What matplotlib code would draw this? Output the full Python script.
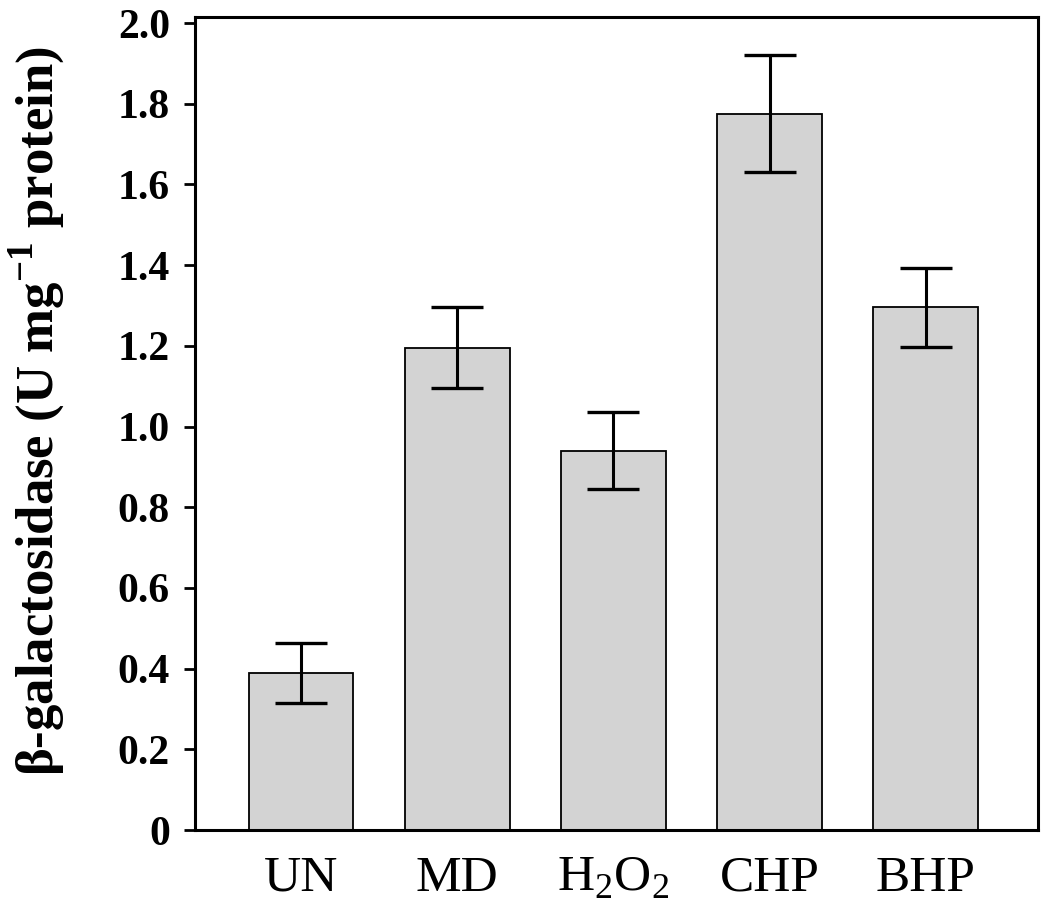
import numpy as np
import matplotlib.pyplot as plt

plt.rcParams['font.family'] = ['Liberation Serif', 'DejaVu Serif']
plt.rcParams['mathtext.fontset'] = 'custom'
plt.rcParams['mathtext.rm'] = 'Liberation Serif'
plt.rcParams['mathtext.bf'] = 'Liberation Serif:bold'

# data
treatments = ['UN', 'MD', r'H$_\mathrm{2}$O$_\mathrm{2}$', 'CHP', 'BHP']
activity = [0.39, 1.195, 0.94, 1.775, 1.295]
errors = [0.074, 0.10, 0.095, 0.145, 0.097]
yticks = [0, 0.2, 0.4, 0.6, 0.8, 1.0, 1.2, 1.4, 1.6, 1.8, 2.0]
yticklabels = ['0', '0.2', '0.4', '0.6', '0.8', '1.0', '1.2', '1.4', '1.6', '1.8', '2.0']

fig = plt.figure(figsize=(10.5, 9.13), dpi=100)
ax = fig.add_axes([0.1857, 0.0909, 0.803, 0.8905])

x = np.arange(len(treatments))
ax.bar(x, activity, width=0.67, color='#d3d3d3', edgecolor='black', linewidth=1.3, zorder=2)
ax.errorbar(x, activity, yerr=errors, fmt='none', ecolor='black',
            elinewidth=2.2, capsize=19, capthick=2.4, zorder=3)

ax.set_xlim(-0.68, 4.72)
ax.set_ylim(0, 2.015)
ax.set_xticks(x)
ax.set_xticklabels(treatments, fontsize=37)
ax.tick_params(axis='x', length=0, pad=18)
ax.set_yticks(yticks)
ax.set_yticklabels(yticklabels, fontsize=30, fontweight='bold')
ax.tick_params(axis='y', length=8, width=2, pad=10)

for s in ax.spines.values():
    s.set_linewidth(2.2)

ax.set_ylabel(r'β-galactosidase (U mg$^{\mathbf{-1}}$ protein)', fontsize=38,
              fontweight='bold')
ax.yaxis.set_label_coords(-0.152, 0.515)

fig.savefig('out.png', dpi=100)
